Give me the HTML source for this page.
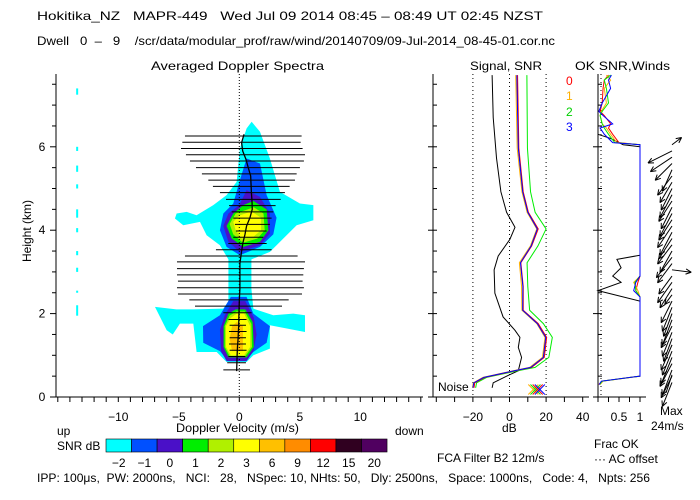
<!DOCTYPE html>
<html><head><meta charset="utf-8"><style>
body{margin:0;background:#fff}
svg{display:block}
text{font-family:"Liberation Sans",sans-serif;font-size:12px;fill:#000;white-space:pre}
</style></head><body>
<svg id="c" width="700" height="500" viewBox="0 0 700 500">
<text x="37" y="20" font-size="13" textLength="506" lengthAdjust="spacingAndGlyphs">Hokitika_NZ   MAPR-449   Wed Jul 09 2014 08:45 – 08:49 UT 02:45 NZST</text>
<text x="37" y="45" font-size="12.5" textLength="518" lengthAdjust="spacingAndGlyphs">Dwell   0  –   9    /scr/data/modular_prof/raw/wind/20140709/09-Jul-2014_08-45-01.cor.nc</text>
<text x="151" y="70" textLength="173" lengthAdjust="spacingAndGlyphs">Averaged Doppler Spectra</text>
<text x="470" y="70" textLength="72" lengthAdjust="spacingAndGlyphs">Signal, SNR</text>
<text x="575" y="70" textLength="95" lengthAdjust="spacingAndGlyphs">OK SNR,Winds</text>
<text transform="translate(31,262) rotate(-90)" font-size="11">Height (km)</text>
<text x="176" y="432" font-size="11" textLength="123" lengthAdjust="spacingAndGlyphs">Doppler Velocity (m/s)</text>
<text x="57" y="435" font-size="11">up</text>
<text x="395" y="435" font-size="11">down</text>
<text x="57" y="450" font-size="11">SNR dB</text>
<text x="502" y="432" font-size="11">dB</text>
<text x="594" y="448" font-size="11">Frac OK</text>
<text x="594" y="463" font-size="11">··· AC offset</text>
<text x="660" y="415" font-size="11">Max</text>
<text x="651" y="430" font-size="11">24m/s</text>
<text x="437" y="462" font-size="11">FCA Filter B2 12m/s</text>
<text x="438" y="391" font-size="11">Noise</text>
<text x="37" y="482" font-size="11" textLength="613" lengthAdjust="spacingAndGlyphs">IPP: 100μs,  PW: 2000ns,   NCI:   28,   NSpec: 10, NHts: 50,   Dly: 2500ns,   Space: 1000ns,   Code: 4,   Npts: 256</text>
<text x="566" y="85" font-size="11" style="fill:#f00">0</text>
<text x="566" y="100" font-size="11" style="fill:#ffb000">1</text>
<text x="566" y="116" font-size="11" style="fill:#00d000">2</text>
<text x="566" y="131" font-size="11" style="fill:#0000ff">3</text>
</svg>
<script>
// ---- data ----
const yTicks=[0,2,4,6];
const vTicks=[-10,-5,0,5,10];
const dbTicks=[-20,0,20,40];
const fracTicks=[0.5,1];
const cbLabels=["−2","−1","0","1","2","3","6","9","12","15","20"];
const cbColors=["#00ffff","#0050ff","#4a10c8","#00ee00","#b0f000","#ffff00","#ffc000","#ff8c00","#ff0000","#300020","#500060"];
const widthH=[6.26,6.11,5.96,5.81,5.66,5.50,5.35,5.20,5.05,4.90,4.74,4.59,4.44,4.29,4.14,3.98,3.83,3.68,3.53,3.38,3.24,3.08,2.93,2.78,2.62,2.47,2.33,2.18,2.02,1.86,1.72,1.57,1.42,1.27,1.12,0.97,0.82,0.65];
const widthL=[-4.49,-4.71,-4.82,-4.41,-4.08,-3.58,-3.09,-2.56,-2.18,-1.60,-1.10,-0.85,-0.63,-0.50,-0.36,-0.28,-0.50,-0.91,-1.93,-4.49,-5.15,-5.15,-5.15,-5.07,-5.15,-5.07,-4.13,-3.66,-1.32,-0.90,-0.80,-0.85,-0.80,-0.85,-0.80,-0.90,-1.00,-1.32];
const widthR=[5.15,5.07,5.23,5.43,5.34,5.01,4.74,4.60,4.16,3.77,3.42,3.00,2.81,2.67,2.53,2.26,1.98,2.26,2.67,4.82,5.43,5.34,5.29,5.23,5.34,5.18,4.08,3.53,1.02,0.60,0.55,0.60,0.55,0.55,0.60,0.50,0.55,0.88];
const meanH=[0.62,0.8,1.0,1.2,1.4,1.55,1.7,2.0,2.3,2.6,2.9,3.2,3.5,3.7,3.9,4.1,4.3,4.5,4.7,4.9,5.1,5.3,5.5,5.7,5.9,6.1,6.3];
const meanV=[-0.22,-0.2,-0.18,-0.15,-0.1,-0.08,-0.05,-0.03,0.0,0.05,0.05,0.05,0.19,0.3,0.47,0.6,0.88,1.07,1.05,1.0,0.97,0.94,0.74,0.55,0.28,0.19,0.39];
const contours=[
 {lvl:0,pts:[[1.02,6.6],[1.71,6.36],[2.53,5.72],[3.36,4.92],[5.01,4.64],[6.12,4.6],[6.12,4.24],[4.74,4.12],[3.36,3.72],[2.53,3.48],[1.0,3.3],[1.0,2.6],[1.16,2.12],[2.81,1.96],[4.46,2.0],[5.43,1.96],[5.43,1.56],[2.53,1.72],[2.53,1.16],[1.16,1.0],[0.6,0.84],[-1.05,0.84],[-1.87,1.08],[-3.53,1.08],[-3.8,1.76],[-4.91,1.76],[-5.5,1.5],[-6.0,1.6],[-6.97,2.16],[-5.2,2.1],[-3.8,2.1],[-1.32,2.12],[-0.9,2.3],[-0.9,3.3],[-1.6,3.64],[-2.7,3.88],[-3.25,4.2],[-4.63,4.12],[-5.32,4.28],[-5.18,4.4],[-4.35,4.44],[-3.53,4.36],[-2.15,4.6],[-1.05,4.84],[-0.22,5.16],[0.05,5.96],[0.6,6.44]]},
 {lvl:1,pts:[[0.6,5.72],[1.71,5.6],[2.26,4.84],[3.08,4.3],[2.81,3.9],[1.71,3.6],[0.05,3.4],[-1.05,3.6],[-1.6,4.0],[-1.32,4.4],[-0.5,4.64],[0.05,5.2]]},
 {lvl:1,pts:[[-0.7,2.4],[0.6,2.4],[1.16,2.0],[2.53,1.7],[2.26,1.3],[1.16,1.08],[0.6,0.9],[-1.05,0.9],[-1.6,1.1],[-2.98,1.3],[-3.0,1.7],[-1.6,1.96]]},
 {lvl:2,pts:[[0.6,4.96],[1.71,4.8],[2.53,4.4],[2.53,3.92],[1.71,3.64],[0.05,3.48],[-0.9,3.72],[-1.32,4.1],[-0.9,4.4],[0,4.6]]},
 {lvl:2,pts:[[-0.5,2.3],[0.5,2.3],[1.2,1.9],[1.43,1.5],[1.16,1.1],[0.6,0.86],[-1.05,0.86],[-1.5,1.1],[-1.6,1.6],[-1.2,1.96]]},
 {lvl:3,pts:[[1.16,4.7],[2.26,4.5],[2.4,4.0],[1.71,3.72],[0.33,3.6],[-0.63,3.8],[-1.05,4.1],[-0.5,4.4],[0.33,4.6]]},
 {lvl:3,pts:[[-0.3,2.1],[0.5,2.1],[1.1,1.8],[1.2,1.2],[0.6,0.95],[-0.9,0.95],[-1.3,1.2],[-1.3,1.7],[-0.9,2.0]]},
 {lvl:4,pts:[[1.2,4.55],[2.0,4.4],[2.1,4.0],[1.5,3.8],[0.3,3.7],[-0.5,3.9],[-0.8,4.15],[-0.3,4.4]]},
 {lvl:4,pts:[[-0.25,2.05],[0.45,2.05],[1.0,1.75],[1.05,1.2],[0.5,0.98],[-0.8,0.98],[-1.2,1.2],[-1.2,1.7],[-0.8,1.95]]},
 {lvl:5,pts:[[1.0,4.45],[1.8,4.3],[1.8,4.0],[1.2,3.85],[0.2,3.8],[-0.3,4.0],[-0.5,4.2],[0,4.35]]},
 {lvl:5,pts:[[-0.2,2.0],[0.4,2.0],[0.9,1.7],[0.9,1.2],[0.4,1.0],[-0.7,1.0],[-1.1,1.2],[-1.1,1.7],[-0.7,1.9]]},
 {lvl:6,pts:[[-0.2,1.8],[0.3,1.7],[0.3,1.1],[-0.6,1.1],[-0.8,1.4],[-0.6,1.7]]}
];
const speckV=-13.4;
const speckLo=[7.25,5.9,5.4,5.0,4.3,3.95,3.4,3.0,2.5,1.95];
const speckHi=[7.4,6.0,5.55,5.1,4.5,4.05,3.5,3.1,2.55,2.2];
const sigH=[7.72,6.70,5.73,4.92,4.43,4.07,3.78,3.38,3.05,2.49,1.92,1.60,1.43,1.19,0.95,0.63,0.50,0.34,0.22];
const sigDB=[-9.5,-8.9,-7.1,-4.7,-1.6,3.0,0.2,-6.2,-8.4,-8.0,-3.5,3.0,5.7,4.8,6.6,4.8,-1.6,-8.9,-9.5];
const snrH=[7.72,5.97,4.92,4.43,4.03,3.62,3.22,2.65,2.08,1.76,1.43,0.95,0.71,0.63,0.47,0.34,0.22];
const snr0=[4.4,5.1,7.5,10.3,15.7,12.1,6.2,7.5,7.5,15.7,20.3,19.0,12.1,3.0,-13.5,-19.0,-19.4];
const snr1=[3.4,4.2,6.8,9.6,14.9,11.4,5.4,6.6,6.8,14.9,19.4,18.0,11.0,2.0,-14.5,-19.8,-20.2];
const snr2=[9.5,9.8,11.5,14.0,20.0,15.5,9.6,10.0,11.0,18.5,23.4,21.5,14.0,4.5,-12.5,-18.0,-18.5];
const snr3=[4.0,4.8,7.2,10.0,15.2,11.8,6.0,7.3,7.2,15.2,19.8,18.5,11.6,2.6,-14.0,-19.5,-20.0];
const fracH=[0.30,0.38,0.50,1.0,2.0,2.4,2.55,2.75,2.9,3.3,4.0,5.0,6.05,6.1,6.3,6.45,6.55,6.75,6.85,7.05,7.4,7.6,7.72];
const frac0=[0.02,0.1,1,1,1,1,0.9,0.95,1,1,1,1,1,0.5,0.35,0.25,0.3,0.15,0.05,0.1,0.12,0.15,0.25];
const frac1=[0.05,0.12,1,1,1,1,0.95,0.85,1,1,1,1,1,0.45,0.3,0.2,0.1,0.05,0.08,0.2,0.15,0.3,0.2];
const frac2=[0.04,0.1,1,1,1,1,0.9,0.88,1,1,1,1,1,0.4,0.25,0.15,0.1,0.05,0.1,0.25,0.2,0.15,0.3];
const frac3=[0.03,0.08,1,1,1,1,0.85,0.9,1,1,1,1,1,0.35,0.15,0.05,0.35,0.12,0.02,0.1,0.3,0.25,0.32];
const acH=[0.55,2.3,2.55,2.75,2.9,3.1,3.3,3.4,6.0,6.05,6.2,6.3];
const acF=[1,1,0.0,0.55,0.35,0.55,0.45,1,1,0.6,0.3,0.0];
const windH=[0.35,0.5,0.65,0.8,0.95,1.1,1.25,1.4,1.55,1.7,1.85,2.0,2.15,2.3,2.45,2.6,2.75,2.9,3.05,3.2,3.35,3.5,3.65,3.8,3.95,4.1,4.25,4.4,4.55,4.7,4.85,5.0,5.15,5.3,5.45,5.6,5.75,5.9,6.05];
const windU=[-8,-9,-8,-10,-9,-8,-9,-7,-8,-9,-8,-7,-8,-9,-6,-10,-12,-11,16,-12,-13,-10,-12,-11,-10,-12,-11,-10,-9,-11,-10,-9,-10,-12,-8,-14,-18,-20,8];
const windV=[-20,-18,-21,-19,-22,-20,-21,-19,-20,-18,-21,-19,-20,-18,-8,-16,-17,-15,-2,-16,-17,-18,-16,-17,-19,-18,-17,-19,-18,-17,-19,-18,-17,-16,-18,-14,-12,-10,6];
// ---- scales ----
const xV=v=>239.3+12.1*v, yH=h=>397-41.7*h, xDB=d=>509.5+1.83*d, xF=f=>598+42*f;
const svg=document.getElementById('c'), NS='http://www.w3.org/2000/svg';
function mk(tag,attrs,parent){const e=document.createElementNS(NS,tag);for(const k in attrs)e.setAttribute(k,attrs[k]);(parent||svg).appendChild(e);return e;}
function line(x1,y1,x2,y2,st,dash){return mk('line',{x1,y1,x2,y2,stroke:st||'#000','stroke-width':1,'stroke-dasharray':dash||'none'});}
function txt(x,y,s,anchor){const t=mk('text',{x,y,'text-anchor':anchor||'middle','font-size':11});t.textContent=s;return t;}
const cg=mk('g',{});


contours.forEach(c=>{const p=mk('polygon',{points:c.pts.map(q=>xV(q[0])+','+yH(q[1])).join(' '),fill:cbColors[c.lvl]},cg);

});
speckLo.forEach((lo,i)=>{const l=mk('rect',{x:xV(speckV)-1,y:yH(speckHi[i]),width:2,height:yH(lo)-yH(speckHi[i]),fill:'#00ffff'});

});
const z=line(xV(0),74,xV(0),397,'#000','1,2');


widthH.forEach((h,i)=>{const l=line(xV(widthL[i]),yH(h),xV(widthR[i]),yH(h));

});
const mp=mk('polyline',{points:meanH.map((h,i)=>xV(meanV[i])+','+yH(h)).join(' '),fill:'none',stroke:'#000','stroke-width':1.3});


const ax=line(56,397,423,397);  
const ay=line(56,74,56,397);  
for(let v=-15;v<=15;v++) line(xV(v),397,xV(v),402);
for(let h=0;h<=7.5;h+=0.5) line(56,yH(h),h%2===0?50:52,yH(h));
vTicks.forEach(v=>{const t=txt(xV(v),421,v<0?'−'+(-v):String(v));});
yTicks.forEach(h=>{const t=txt(42,yH(h)+4,String(h));});
[-20,0,20].forEach(d=>{const g=line(xDB(d),74,xDB(d),397,'#000','1,3');});
line(433,74,433,397); line(433,397,589,397);
for(let h=0;h<=7.5;h+=0.5) line(433,yH(h),437,yH(h));
yTicks.forEach(h=>line(428,yH(h),433,yH(h)));
for(let d=-40;d<=40;d+=10) line(xDB(d),397,xDB(d),402);
dbTicks.forEach(d=>{const t=txt(xDB(d),421,d<0?'−'+(-d):String(d));});
const sp=mk('polyline',{points:sigH.map((h,i)=>xDB(sigDB[i])+','+yH(h)).join(' '),fill:'none',stroke:'#000'});


[[snr1,'#ffb000'],[snr2,'#00ee00'],[snr0,'#ff0000'],[snr3,'#0000ff']].forEach((s,k)=>{const p=mk('polyline',{points:snrH.map((h,i)=>xDB(s[0][i])+','+yH(h)).join(' '),fill:'none',stroke:s[1]});


const cx=xDB(13+k*1.2),cy=yH(0.18);line(cx-5,cy-5,cx+5,cy+5,s[1]);line(cx-5,cy+5,cx+5,cy-5,s[1]);});
line(598,74,598,397); line(598,397,646,397);
const acd=line(601,74,601,397,'#000','1,3');  
for(let h=0;h<=7.5;h+=0.5) line(598,yH(h),602,yH(h));
yTicks.forEach(h=>line(593,yH(h),598,yH(h)));
for(let f=0;f<=1.001;f+=0.25) line(xF(f),397,xF(f),402);
fracTicks.forEach(f=>{const t=txt(xF(f),421,String(f));});
const ac=mk('polyline',{points:acH.map((h,i)=>xF(acF[i])+','+yH(h)).join(' '),fill:'none',stroke:'#000'});


[[frac0,'#ff0000'],[frac1,'#ffb000'],[frac2,'#00ee00'],[frac3,'#0000ff']].forEach(s=>{const p=mk('polyline',{points:fracH.map((h,i)=>xF(s[0][i])+','+yH(h)).join(' '),fill:'none',stroke:s[1]});

});
const bx=672,k=1.2;
windH.forEach((h,i)=>{const x0=bx,y0=yH(h),x1=bx+windU[i]*k,y1=y0-windV[i]*k;
const g=mk('g',{stroke:'#000',fill:'none'});


mk('line',{x1:x0,y1:y0,x2:x1,y2:y1},g);
const a=Math.atan2(y1-y0,x1-x0);
[0.45,-0.45].forEach(d=>mk('line',{x1,y1,x2:x1-6*Math.cos(a+d),y2:y1-6*Math.sin(a+d)},g));});
const mx=bx,my=yH(0.1);
const ma=mk('line',{x1:mx,y1:my-18,x2:mx-6,y2:my,stroke:'#000'});


const cw=25.55;
cbColors.forEach((c,i)=>{const r=mk('rect',{x:106+i*cw,y:439,width:cw,height:13,fill:c,stroke:'#000','stroke-width':0.6});


const t=txt(106+i*cw+cw/2,467,cbLabels[i]);

});
</script>
</body></html>
